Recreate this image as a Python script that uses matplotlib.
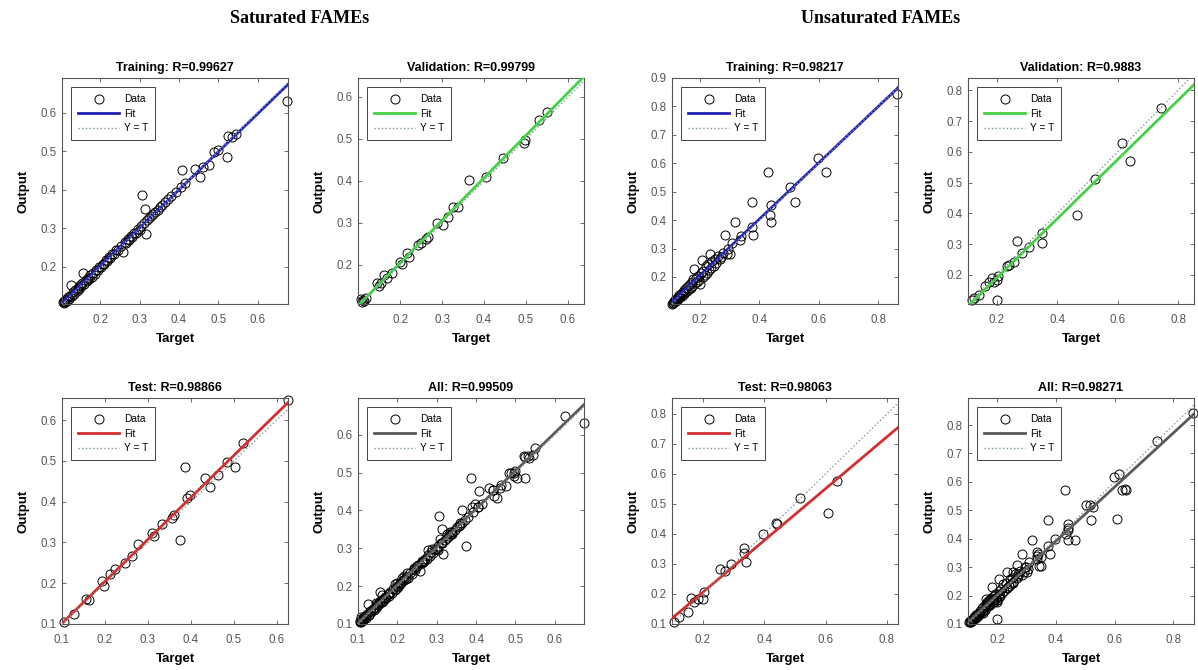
import numpy as np
import matplotlib.pyplot as plt

plt.rcParams['font.family'] = ['Liberation Sans', 'DejaVu Sans']

# ---------------- Saturated FAMEs ----------------
sat_train_t = [0.105, 0.107, 0.109, 0.111, 0.113, 0.115, 0.118, 0.120, 0.123, 0.126,
               0.128, 0.131, 0.134, 0.137, 0.140, 0.143, 0.146, 0.149, 0.152, 0.155,
               0.157, 0.160, 0.163, 0.166, 0.169, 0.172, 0.175, 0.178, 0.182, 0.186,
               0.190, 0.194, 0.198, 0.202, 0.206, 0.210, 0.214, 0.218, 0.222, 0.226,
               0.231, 0.236, 0.241, 0.246, 0.252, 0.258, 0.262, 0.266, 0.270, 0.274,
               0.278, 0.282, 0.286, 0.290, 0.295, 0.300, 0.304, 0.306, 0.310, 0.314,
               0.316, 0.320, 0.325, 0.330, 0.335, 0.340, 0.346, 0.352, 0.358, 0.365,
               0.372, 0.380, 0.392, 0.405, 0.408, 0.415, 0.442, 0.453, 0.460, 0.476,
               0.489, 0.500, 0.523, 0.525, 0.535, 0.544, 0.675]
sat_train_o = [0.108, 0.106, 0.112, 0.109, 0.116, 0.113, 0.121, 0.117, 0.126, 0.152,
               0.125, 0.134, 0.131, 0.140, 0.138, 0.146, 0.143, 0.152, 0.150, 0.158,
               0.184, 0.157, 0.166, 0.163, 0.172, 0.170, 0.178, 0.175, 0.185, 0.183,
               0.193, 0.191, 0.201, 0.199, 0.209, 0.207, 0.217, 0.215, 0.225, 0.222,
               0.234, 0.233, 0.244, 0.243, 0.255, 0.239, 0.265, 0.263, 0.273, 0.271,
               0.281, 0.279, 0.289, 0.287, 0.298, 0.297, 0.307, 0.386, 0.313, 0.350,
               0.285, 0.323, 0.328, 0.333, 0.338, 0.343, 0.349, 0.355, 0.361, 0.368,
               0.375, 0.383, 0.395, 0.408, 0.451, 0.418, 0.455, 0.434, 0.458, 0.464,
               0.499, 0.503, 0.486, 0.540, 0.538, 0.546, 0.631]

sat_val_t = [0.108, 0.110, 0.112, 0.115, 0.120, 0.145, 0.150, 0.155, 0.161, 0.168,
             0.180, 0.200, 0.205, 0.216, 0.222, 0.243, 0.250, 0.262, 0.267, 0.287,
             0.302, 0.314, 0.326, 0.338, 0.365, 0.405, 0.444, 0.495, 0.497, 0.531,
             0.550]
sat_val_o = [0.118, 0.112, 0.116, 0.113, 0.121, 0.156, 0.150, 0.158, 0.176, 0.168,
             0.180, 0.208, 0.203, 0.228, 0.220, 0.248, 0.253, 0.262, 0.267, 0.299,
             0.295, 0.315, 0.339, 0.339, 0.402, 0.410, 0.454, 0.490, 0.498, 0.545,
             0.565]

sat_test_t = [0.104, 0.127, 0.157, 0.162, 0.193, 0.197, 0.212, 0.224, 0.247, 0.263,
              0.278, 0.309, 0.313, 0.333, 0.356, 0.360, 0.375, 0.387, 0.390, 0.398,
              0.433, 0.445, 0.464, 0.484, 0.503, 0.522, 0.625]
sat_test_o = [0.104, 0.124, 0.161, 0.158, 0.206, 0.193, 0.222, 0.234, 0.250, 0.267,
              0.295, 0.324, 0.315, 0.344, 0.360, 0.368, 0.307, 0.486, 0.409, 0.417,
              0.458, 0.437, 0.466, 0.498, 0.486, 0.543, 0.650]

# ---------------- Unsaturated FAMEs ----------------
uns_train_t = [0.105, 0.108, 0.110, 0.112, 0.114, 0.116, 0.118, 0.120, 0.122, 0.124,
               0.126, 0.128, 0.130, 0.133, 0.136, 0.139, 0.142, 0.145, 0.148, 0.151,
               0.154, 0.157, 0.160, 0.163, 0.166, 0.169, 0.172, 0.175, 0.178, 0.181,
               0.184, 0.187, 0.190, 0.193, 0.196, 0.200, 0.204, 0.206, 0.209, 0.212,
               0.216, 0.220, 0.224, 0.228, 0.232, 0.234, 0.238, 0.242, 0.246, 0.250,
               0.255, 0.260, 0.266, 0.272, 0.278, 0.284, 0.290, 0.296, 0.301, 0.308,
               0.318, 0.334, 0.340, 0.374, 0.374, 0.379, 0.430, 0.435, 0.441, 0.441,
               0.503, 0.520, 0.597, 0.625, 0.865]
uns_train_o = [0.106, 0.110, 0.107, 0.114, 0.111, 0.118, 0.115, 0.123, 0.119, 0.127,
               0.122, 0.131, 0.135, 0.128, 0.140, 0.134, 0.147, 0.139, 0.155, 0.146,
               0.162, 0.150, 0.170, 0.158, 0.176, 0.163, 0.183, 0.168, 0.192, 0.229,
               0.178, 0.198, 0.183, 0.205, 0.190, 0.176, 0.215, 0.259, 0.200, 0.222,
               0.208, 0.240, 0.215, 0.245, 0.226, 0.282, 0.232, 0.258, 0.240, 0.262,
               0.248, 0.275, 0.262, 0.270, 0.285, 0.347, 0.282, 0.300, 0.282, 0.318,
               0.394, 0.329, 0.345, 0.465, 0.376, 0.347, 0.571, 0.418, 0.453, 0.394,
               0.518, 0.465, 0.618, 0.571, 0.842]

uns_val_t = [0.117, 0.125, 0.139, 0.160, 0.172, 0.183, 0.190, 0.200, 0.200, 0.205,
             0.233, 0.240, 0.255, 0.266, 0.283, 0.305, 0.349, 0.349, 0.464, 0.525,
             0.615, 0.640, 0.745]
uns_val_o = [0.118, 0.125, 0.135, 0.165, 0.178, 0.189, 0.178, 0.184, 0.118, 0.195,
             0.227, 0.232, 0.243, 0.309, 0.271, 0.292, 0.303, 0.336, 0.396, 0.510,
             0.629, 0.570, 0.743]

uns_test_t = [0.107, 0.124, 0.151, 0.162, 0.173, 0.184, 0.200, 0.205, 0.255, 0.271,
              0.293, 0.336, 0.336, 0.342, 0.396, 0.440, 0.442, 0.516, 0.609, 0.636]
uns_test_o = [0.106, 0.122, 0.139, 0.188, 0.172, 0.183, 0.183, 0.205, 0.283, 0.277,
              0.299, 0.354, 0.338, 0.305, 0.399, 0.437, 0.432, 0.520, 0.470, 0.576]

titles = ['Training: R=0.99627', 'Validation: R=0.99799', 'Training: R=0.98217', 'Validation: R=0.9883',
          'Test: R=0.98866', 'All: R=0.99509', 'Test: R=0.98063', 'All: R=0.98271']

# axis limits and ticks of every panel (same order as titles)
xlims = [(0.103, 0.677), (0.100, 0.638), (0.106, 0.867), (0.104, 0.853),
         (0.100, 0.626), (0.100, 0.674), (0.100, 0.836), (0.100, 0.870)]
ylims = [(0.104, 0.690), (0.107, 0.645), (0.105, 0.900), (0.105, 0.840),
         (0.100, 0.654), (0.100, 0.697), (0.100, 0.853), (0.100, 0.895)]
xticks = [[0.2, 0.3, 0.4, 0.5, 0.6], [0.2, 0.3, 0.4, 0.5, 0.6], [0.2, 0.4, 0.6, 0.8], [0.2, 0.4, 0.6, 0.8],
          [0.1, 0.2, 0.3, 0.4, 0.5, 0.6], [0.1, 0.2, 0.3, 0.4, 0.5, 0.6], [0.2, 0.4, 0.6, 0.8], [0.2, 0.4, 0.6, 0.8]]
yticks = [[0.2, 0.3, 0.4, 0.5, 0.6], [0.2, 0.3, 0.4, 0.5, 0.6],
          [0.2, 0.3, 0.4, 0.5, 0.6, 0.7, 0.8, 0.9], [0.2, 0.3, 0.4, 0.5, 0.6, 0.7, 0.8],
          [0.1, 0.2, 0.3, 0.4, 0.5, 0.6], [0.1, 0.2, 0.3, 0.4, 0.5, 0.6],
          [0.1, 0.2, 0.3, 0.4, 0.5, 0.6, 0.7, 0.8], [0.1, 0.2, 0.3, 0.4, 0.5, 0.6, 0.7, 0.8]]

blue, green, red, grey = '#2323b8', '#46d046', '#d23030', '#5a5a5a'
fitcolors = [blue, green, blue, green, red, grey, red, grey]

sets = [(sat_train_t, sat_train_o), (sat_val_t, sat_val_o),
        (uns_train_t, uns_train_o), (uns_val_t, uns_val_o),
        (sat_test_t, sat_test_o),
        (sat_train_t + sat_val_t + sat_test_t, sat_train_o + sat_val_o + sat_test_o),
        (uns_test_t, uns_test_o),
        (uns_train_t + uns_val_t + uns_test_t, uns_train_o + uns_val_o + uns_test_o)]

W, H = 1198, 670
fig = plt.figure(figsize=(W / 100, H / 100), dpi=100)

lefts = [62, 358, 672, 968]
tops = [78, 398]
size = 226

for k in range(8):
    row, col = k // 4, k % 4
    ax = fig.add_axes([lefts[col] / W, 1 - (tops[row] + size) / H, size / W, size / H])
    t = np.array(sets[k][0])
    o = np.array(sets[k][1])

    # linear fit Output ~ a*Target + b
    a, b = np.polyfit(t, o, 1)
    xx = np.array(xlims[k])

    ax.plot(t, o, 'o', mfc='none', mec='black', ms=6.5, mew=0.7, label='Data', zorder=2, clip_on=False)
    ax.plot(xx, a * xx + b, '-', color=fitcolors[k], lw=2, label='Fit', zorder=3)
    ax.plot(xx, xx, ':', color='#7f9a9a', lw=1, label='Y = T', zorder=4)

    ax.set_xlim(xlims[k])
    ax.set_ylim(ylims[k])
    ax.set_xticks(xticks[k])
    ax.set_yticks(yticks[k])
    ax.set_xticklabels(['%.1f' % v for v in xticks[k]])
    ax.set_yticklabels(['%.1f' % v for v in yticks[k]])
    ax.tick_params(direction='in', top=True, right=True, length=3, width=0.6,
                   labelsize=8.3, labelcolor='#555555', color='#555555')
    ax.tick_params(axis='x', pad=7)
    ax.tick_params(axis='y', pad=4)
    for sp in ax.spines.values():
        sp.set_color('#555555')
        sp.set_linewidth(0.8)

    ax.set_title(titles[k], fontsize=9, fontweight='bold', pad=5)
    ax.set_xlabel('Target', fontsize=9.5, fontweight='bold', labelpad=5)
    ax.set_ylabel('Output', fontsize=9.5, fontweight='bold', labelpad=8)

    leg = ax.legend(loc='upper left', fontsize=7.3, handlelength=4, labelspacing=0.45,
                    borderpad=0.7, handletextpad=0.5, borderaxespad=0.9,
                    fancybox=False, framealpha=1)
    leg.get_frame().set_edgecolor('#444444')
    leg.get_frame().set_linewidth(0.7)

fig.text(0.25, 0.972, 'Saturated FAMEs', ha='center', va='center',
         family='Liberation Serif', fontweight='bold', fontsize=13)
fig.text(0.735, 0.972, 'Unsaturated FAMEs', ha='center', va='center',
         family='Liberation Serif', fontweight='bold', fontsize=13)

plt.savefig('out.png', dpi=100)
plt.close()
